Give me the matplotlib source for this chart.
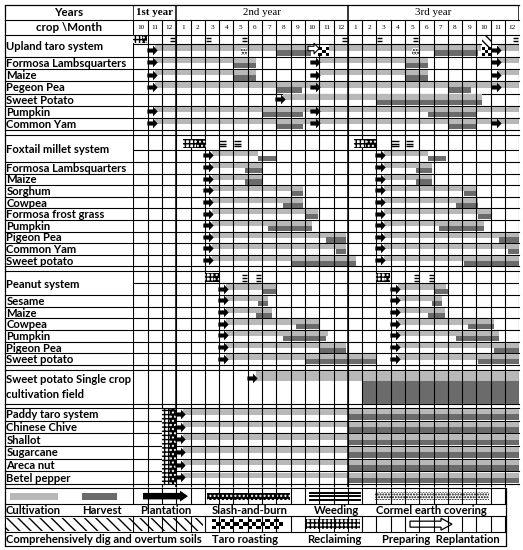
import matplotlib
matplotlib.use('Agg')
import matplotlib.pyplot as plt
from matplotlib.patches import Rectangle, FancyArrow
from matplotlib.path import Path
import numpy as np

plt.rcParams['hatch.linewidth'] = 1.0

LIGHT = '#b8b8b8'
DARK = '#6b6b6b'
LABEL_FONT = 'Lato'
SERIF = 'Liberation Serif'

# ---------------- data ----------------
# month index: 0 = Oct of 1st year ... 26 = Dec of 3rd year
months = ['10', '11', '12'] + [str(m) for m in range(1, 13)] * 2
years = ['1st year', '2nd year', '3rd year']
year_spans = [(0, 3), (3, 15), (15, 27)]

# Upland taro system
upland_names = ['Upland taro system', 'Formosa Lambsquarters', 'Maize', 'Pegeon Pea',
                'Sweet Potato', 'Pumpkin', 'Common Yam']
upland_cult = [[(1.5, 12.4), (13.7, 24.3), (25.5, 27)],
               [(1.5, 8.6), (13.0, 20.6), (25.5, 27)],
               [(1.5, 8.6), (13.0, 20.6), (25.5, 27)],
               [(1.5, 27)],
               [(10.5, 24.4)],
               [(1.5, 27)],
               [(1.5, 27)]]
upland_harv = [[(10.0, 12.4), (21.0, 24.1)],
               [(7.0, 8.6), (19.0, 20.6)],
               [(7.0, 8.6), (19.0, 20.6)],
               [(10.0, 11.8), (22.0, 23.6)],
               [(17.0, 24.4)],
               [(9.0, 11.9), (20.6, 24.0)],
               [(10.0, 11.9), (22.0, 24.0)]]
upland_plant = [[1.28, 25.35], [1.28, 12.7, 25.35], [1.28, 12.7, 25.35], [1.28, 12.7, 25.35],
                [10.28], [1.28, 12.7], [1.28, 12.7, 25.35]]
upland_reclaim = [(0.0, 0.6)]
upland_burn = [(0.6, 0.95)]
upland_weed = [2.75, 5.25, 7.75, 14.75, 17.25, 19.75, 26.75]
upland_cormel = [7.5, 19.5]
upland_replant = [12.55]
upland_roast = [(12.95, 13.7), (24.35, 25.0)]
upland_dig = [(24.35, 25.0)]

# Foxtail millet system
fox_names = ['Foxtail millet system', 'Formosa Lambsquarters', 'Maize', 'Sorghum', 'Cowpea',
             'Formosa frost grass', 'Pumpkin', 'Pigeon Pea', 'Common Yam', 'Sweet potato']
fox_cult = [[(5.5, 8.75), (17.5, 20.6)],
            [(5.5, 9.0), (17.5, 20.9)],
            [(5.5, 9.0), (17.5, 20.9)],
            [(5.5, 11.9), (17.5, 24.0)],
            [(5.5, 11.9), (17.5, 24.1)],
            [(5.5, 12.9), (17.5, 25.0)],
            [(5.5, 12.5), (17.5, 24.5)],
            [(5.5, 14.9), (17.5, 27)],
            [(5.5, 14.9), (17.5, 27)],
            [(5.5, 15.6), (17.5, 27)]]
fox_harv = [[(8.75, 10.0), (20.6, 21.9)],
            [(7.8, 9.0), (19.8, 20.9)],
            [(7.8, 9.0), (19.8, 20.9)],
            [(11.0, 11.9), (23.1, 24.0)],
            [(10.5, 11.9), (22.6, 24.1)],
            [(12.0, 12.9), (24.1, 25.0)],
            [(9.4, 12.5), (21.4, 24.5)],
            [(13.5, 14.9), (25.6, 27)],
            [(14.2, 14.9), (26.2, 27)],
            [(11.0, 15.6), (23.1, 27)]]
fox_plant = [[5.25, 17.25]] * 10
fox_reclaim = [(3.5, 4.4), (15.4, 16.3)]
fox_burn = [(4.4, 5.05), (16.3, 17.0)]
fox_weed = [6.25, 7.3, 18.3, 19.3]

# Peanut system
pea_names = ['Peanut system', 'Sesame', 'Maize', 'Cowpea', 'Pumpkin', 'Pigeon Pea', 'Sweet potato']
pea_cult = [[(6.5, 10.0), (18.5, 21.9)],
            [(6.5, 9.4), (18.5, 21.6)],
            [(6.5, 9.7), (18.5, 21.8)],
            [(6.5, 13.0), (18.5, 25.2)],
            [(6.5, 13.6), (18.5, 25.6)],
            [(6.5, 14.9), (18.5, 27)],
            [(6.5, 17.0), (18.5, 27)]]
pea_harv = [[(9.0, 10.0), (21.0, 22.1)],
            [(8.75, 9.4), (20.9, 21.6)],
            [(8.6, 9.7), (20.6, 21.8)],
            [(11.4, 13.0), (23.4, 25.2)],
            [(10.5, 13.5), (22.6, 25.6)],
            [(13.0, 14.9), (25.2, 27)],
            [(12.1, 17.0), (24.1, 27)]]
pea_plant = [[6.3, 18.3]] * 7
pea_reclaim = [(5.0, 5.6), (17.0, 17.6)]
pea_burn = [(5.6, 6.0), (17.6, 17.95)]
pea_weed = [7.75, 8.75, 19.8, 20.85]

# Sweet potato single crop field
sp_cult = [(8.6, 27)]
sp_harv = [(16.0, 27)]
sp_plant = [8.3]

# Paddy taro system
paddy_names = ['Paddy taro system', 'Chinese Chive', 'Shallot', 'Sugarcane', 'Areca nut', 'Betel pepper']
paddy_cult = [[(3.5, 27)]] * 6
paddy_harv = [[(15.0, 27)]] * 6
paddy_plant = [[3.25]] * 6
paddy_reclaim = (2.0, 2.65)
paddy_burn = (2.6, 3.0)

legend_top = ['Cultivation', 'Harvest', 'Plantation', 'Slash-and-burn', 'Weeding', 'Cormel earth covering']
legend_bottom = ['Comprehensively dig and overtum soils', 'Taro roasting', 'Reclaiming', 'Preparing  Replantation']

# ---------------- figure ----------------
W, H = 523, 550
fig = plt.figure(figsize=(W / 100, H / 100), dpi=100)
base = fig.add_axes([0, 0, 1, 1])
base.set_xlim(0, W)
base.set_ylim(H, 0)
base.axis('off')

X0, X1 = 133.3, 519.4
ax = fig.add_axes([X0 / W, 0, (X1 - X0) / W, 1])
ax.set_xlim(0, 27)
ax.set_ylim(H, 0)
ax.axis('off')

LEFT, RIGHT = 4.5, X1
arrow_path = Path([(-1, -0.4), (0.1, -0.4), (0.1, -0.95), (1, 0), (0.1, 0.95),
                   (0.1, 0.4), (-1, 0.4), (-1, -0.4)],
                  [Path.MOVETO] + [Path.LINETO] * 6 + [Path.CLOSEPOLY])
ARROW_MS = 7.4


def hline(y, full=True):
    if full:
        base.plot([LEFT, RIGHT], [y, y], color='k', lw=0.8, zorder=5)
    else:
        ax.plot([0, 27], [y, y], color='k', lw=0.8, zorder=5)


def label(y, txt, size=8.1):
    base.text(6.5, y, txt, fontsize=size, fontweight='bold', family=LABEL_FONT,
              va='center', ha='left', zorder=6)


def hatch_box(axis, x0, x1, y0, y1, hatch, fc='white', hc='black'):
    axis.add_patch(Rectangle((x0, y0), x1 - x0, y1 - y0, facecolor=fc, edgecolor=hc,
                             hatch=hatch, lw=0, zorder=7))


def checker(axis, x0, x1, y0, y1, nx, ny):
    xs = np.linspace(x0, x1, nx + 1)
    ys = np.linspace(y0, y1, ny + 1)
    axis.add_patch(Rectangle((x0, y0), x1 - x0, y1 - y0, facecolor='white', lw=0, zorder=7))
    for i in range(nx):
        for j in range(ny):
            if (i + j) % 2 == 0:
                axis.add_patch(Rectangle((xs[i], ys[j]), xs[i + 1] - xs[i], ys[j + 1] - ys[j],
                                         facecolor='black', lw=0, zorder=7))


def weed(x, yc, n, w=0.4, gap=2.8):
    ys = yc + (np.arange(n) - (n - 1) / 2) * gap
    ax.hlines(ys, x - w / 2, x + w / 2, color='k', lw=1.0, zorder=7)


def bars(t, h, cult, harv, plant):
    ax.broken_barh([(a, b - a) for a, b in cult], (t + 0.08 * h, 0.44 * h),
                   facecolor=LIGHT, lw=0, zorder=2)
    ax.broken_barh([(a, b - a) for a, b in harv], (t + 0.5 * h, 0.44 * h),
                   facecolor=DARK, lw=0, zorder=3)
    ax.plot(plant, [t + 0.45 * h] * len(plant), ls='none', marker=arrow_path, ms=ARROW_MS,
            color='k', mew=0, zorder=8)


def block(top, mark_h, bar_h, row_h, names, cult, harv, plant, sys_size=8.1):
    hline(top)
    hline(top + mark_h, full=False)
    label(top + (mark_h + bar_h) / 2 + 1, names[0], sys_size)
    bars(top + mark_h, bar_h, cult[0], harv[0], plant[0])
    y = top + mark_h + bar_h
    hline(y)
    for i in range(1, len(names)):
        label(y + row_h / 2 + 0.5, names[i])
        bars(y, row_h, cult[i], harv[i], plant[i])
        y += row_h
        hline(y)
    return y


# ---------------- header ----------------
base.plot([LEFT, RIGHT], [4.5, 4.5], color='k', lw=0.9)
hline(20)
base.text(69, 12.5, 'Years', fontsize=8.3, fontweight='bold', family=LABEL_FONT, ha='center', va='center')
base.text(69, 27.5, 'crop \\Month', fontsize=8.3, fontweight='bold', family=LABEL_FONT, ha='center', va='center')
for (a, b), yr in zip(year_spans, years):
    ax.text((a + b) / 2, 12.5, yr, fontsize=7.8, family=SERIF, ha='center', va='center',
            fontweight='bold' if yr == '1st year' else 'normal')
for i, m in enumerate(months):
    ax.text(i + 0.5, 27.5, m, fontsize=5.2, family=SERIF, ha='center', va='center')

# vertical grid
ax.vlines([0, 3, 15, 27], 4.5, 20, color='k', lw=1.1, zorder=5)
ax.vlines(np.arange(28), 20, 487, color='k', lw=0.8, zorder=5)
ax.vlines([0, 3, 15], 20, 487, color='k', lw=1.1, zorder=5)
base.vlines(LEFT, 4.5, 545.5, color='k', lw=0.9, zorder=5)

# ---------------- blocks ----------------
bottom = block(35, 8.5, 13.5, 12.17, upland_names, upland_cult, upland_harv, upland_plant)
for a, b in upland_reclaim:
    hatch_box(ax, a, b, 36, 43, '++++')
for a, b in upland_burn:
    hatch_box(ax, a, b, 36, 43, '....', fc='black', hc='white')
for x in upland_weed:
    weed(x, 39.5, 2, w=0.35)
for x in upland_cormel:
    hatch_box(ax, x, x + 0.45, 47.5, 54.5, '......')
for x in upland_replant:
    ax.plot(x, 47.5, ls='none', marker=arrow_path, ms=8, mfc='white', mec='k', mew=0.8, zorder=9)
for a, b in upland_roast:
    checker(ax, a, b, 47, 55.5, 3, 3)
for a, b in upland_dig:
    hatch_box(ax, a, b, 36, 46.5, '\\\\\\\\')

top = bottom + 5
bottom = block(top, 15, 12, 11.6, fox_names, fox_cult, fox_harv, fox_plant)
for a, b in fox_reclaim:
    hatch_box(ax, a, b, top + 4, top + 13, '++++')
for a, b in fox_burn:
    hatch_box(ax, a, b, top + 4, top + 13, '....', fc='black', hc='white')
for x in fox_weed:
    weed(x, top + 8.5, 3, w=0.5, gap=2.7)

top = bottom + 5
bottom = block(top, 12, 11.7, 11.67, pea_names, pea_cult, pea_harv, pea_plant)
for a, b in pea_reclaim:
    hatch_box(ax, a, b, top + 2, top + 11, '++++')
for a, b in pea_burn:
    hatch_box(ax, a, b, top + 2, top + 11, '....', fc='black', hc='white')
for x in pea_weed:
    weed(x, top + 6.5, 3, w=0.35, gap=2.7)

# sweet potato single crop field
top = bottom + 5
hline(top)
label(top + 9, 'Sweet potato Single crop')
label(top + 24.5, 'cultivation field')
ax.broken_barh([(a, b - a) for a, b in sp_cult], (top + 1, 10), facecolor=LIGHT, lw=0, zorder=2)
ax.broken_barh([(a, b - a) for a, b in sp_harv], (top + 11, 23), facecolor=DARK, lw=0, zorder=3)
ax.plot(sp_plant, [top + 8], ls='none', marker=arrow_path, ms=ARROW_MS, color='k', mew=0, zorder=8)
bottom = top + 34
hline(bottom)

# paddy taro system
top = bottom + 4
hline(top)
y = top
ph = 12.67
for i, nm in enumerate(paddy_names):
    label(y + ph / 2 + 0.5, nm)
    bars(y, ph, paddy_cult[i], paddy_harv[i], paddy_plant[i])
    y += ph
    hline(y)
hatch_box(ax, paddy_reclaim[0], paddy_reclaim[1], top + 1, y, '++++')
hatch_box(ax, paddy_burn[0], paddy_burn[1], top + 1, y, '....', fc='black', hc='white')
bottom = y

# ---------------- legend ----------------
L0 = bottom + 4
LR = 505.5
for yy in [L0, L0 + 16, L0 + 28, L0 + 44, L0 + 58]:
    base.plot([LEFT, LR], [yy, yy], color='k', lw=0.8, zorder=5)
base.vlines(LR, L0, L0 + 58, color='k', lw=0.9, zorder=5)
ax.vlines(np.arange(27), L0, L0 + 16, color='k', lw=0.8, zorder=5)
ax.vlines(np.arange(27), L0 + 28, L0 + 44, color='k', lw=0.8, zorder=5)

s1 = L0 + 8
base.add_patch(Rectangle((10, s1 - 3.5), 48, 7.5, facecolor=LIGHT, lw=0, zorder=7))
base.add_patch(Rectangle((82, s1 - 3.5), 35, 7.5, facecolor=DARK, lw=0, zorder=7))
base.add_patch(FancyArrow(143, s1, 37, 0, width=6.5, head_width=11, head_length=8,
                          length_includes_head=False, color='k', lw=0, zorder=8))
hatch_box(base, 207, 290, s1 - 3.5, s1 + 4, '....', fc='black', hc='white')
base.add_patch(Rectangle((305, s1 - 7.5), 60, 15, facecolor='white', lw=0, zorder=6))
for dy in (-3.4, 0, 3.4):
    base.plot([310, 360], [s1 + dy, s1 + dy], color='k', lw=1.4, zorder=7)
hatch_box(base, 375, 489, s1 - 4, s1 + 4, '......')

s2 = L0 + 36
hatch_box(base, 6, 203, s2 - 6.5, s2 + 6.5, '\\\\\\')
checker(base, 212, 283, s2 - 5, s2 + 5, 16, 3)
hatch_box(base, 306, 360, s2 - 5, s2 + 5, '++++')
base.add_patch(Rectangle((400, s2 - 7.5), 57, 15, facecolor='white', lw=0, zorder=6))
base.add_patch(FancyArrow(410, s2, 31, 0, width=6, head_width=12, head_length=11,
                          length_includes_head=False, facecolor='white', edgecolor='k',
                          lw=0.9, zorder=8))

t1 = L0 + 22
for x, txt in zip([6, 82, 140, 212, 314, 376], legend_top):
    base.text(x, t1, txt, fontsize=8.1, fontweight='bold', family=LABEL_FONT, va='center', ha='left')
t2 = L0 + 51
for x, txt in zip([6, 212, 307, 382], legend_bottom):
    base.text(x, t2, txt, fontsize=8.1, fontweight='bold', family=LABEL_FONT, va='center', ha='left')

fig.savefig('out.png', dpi=100)
